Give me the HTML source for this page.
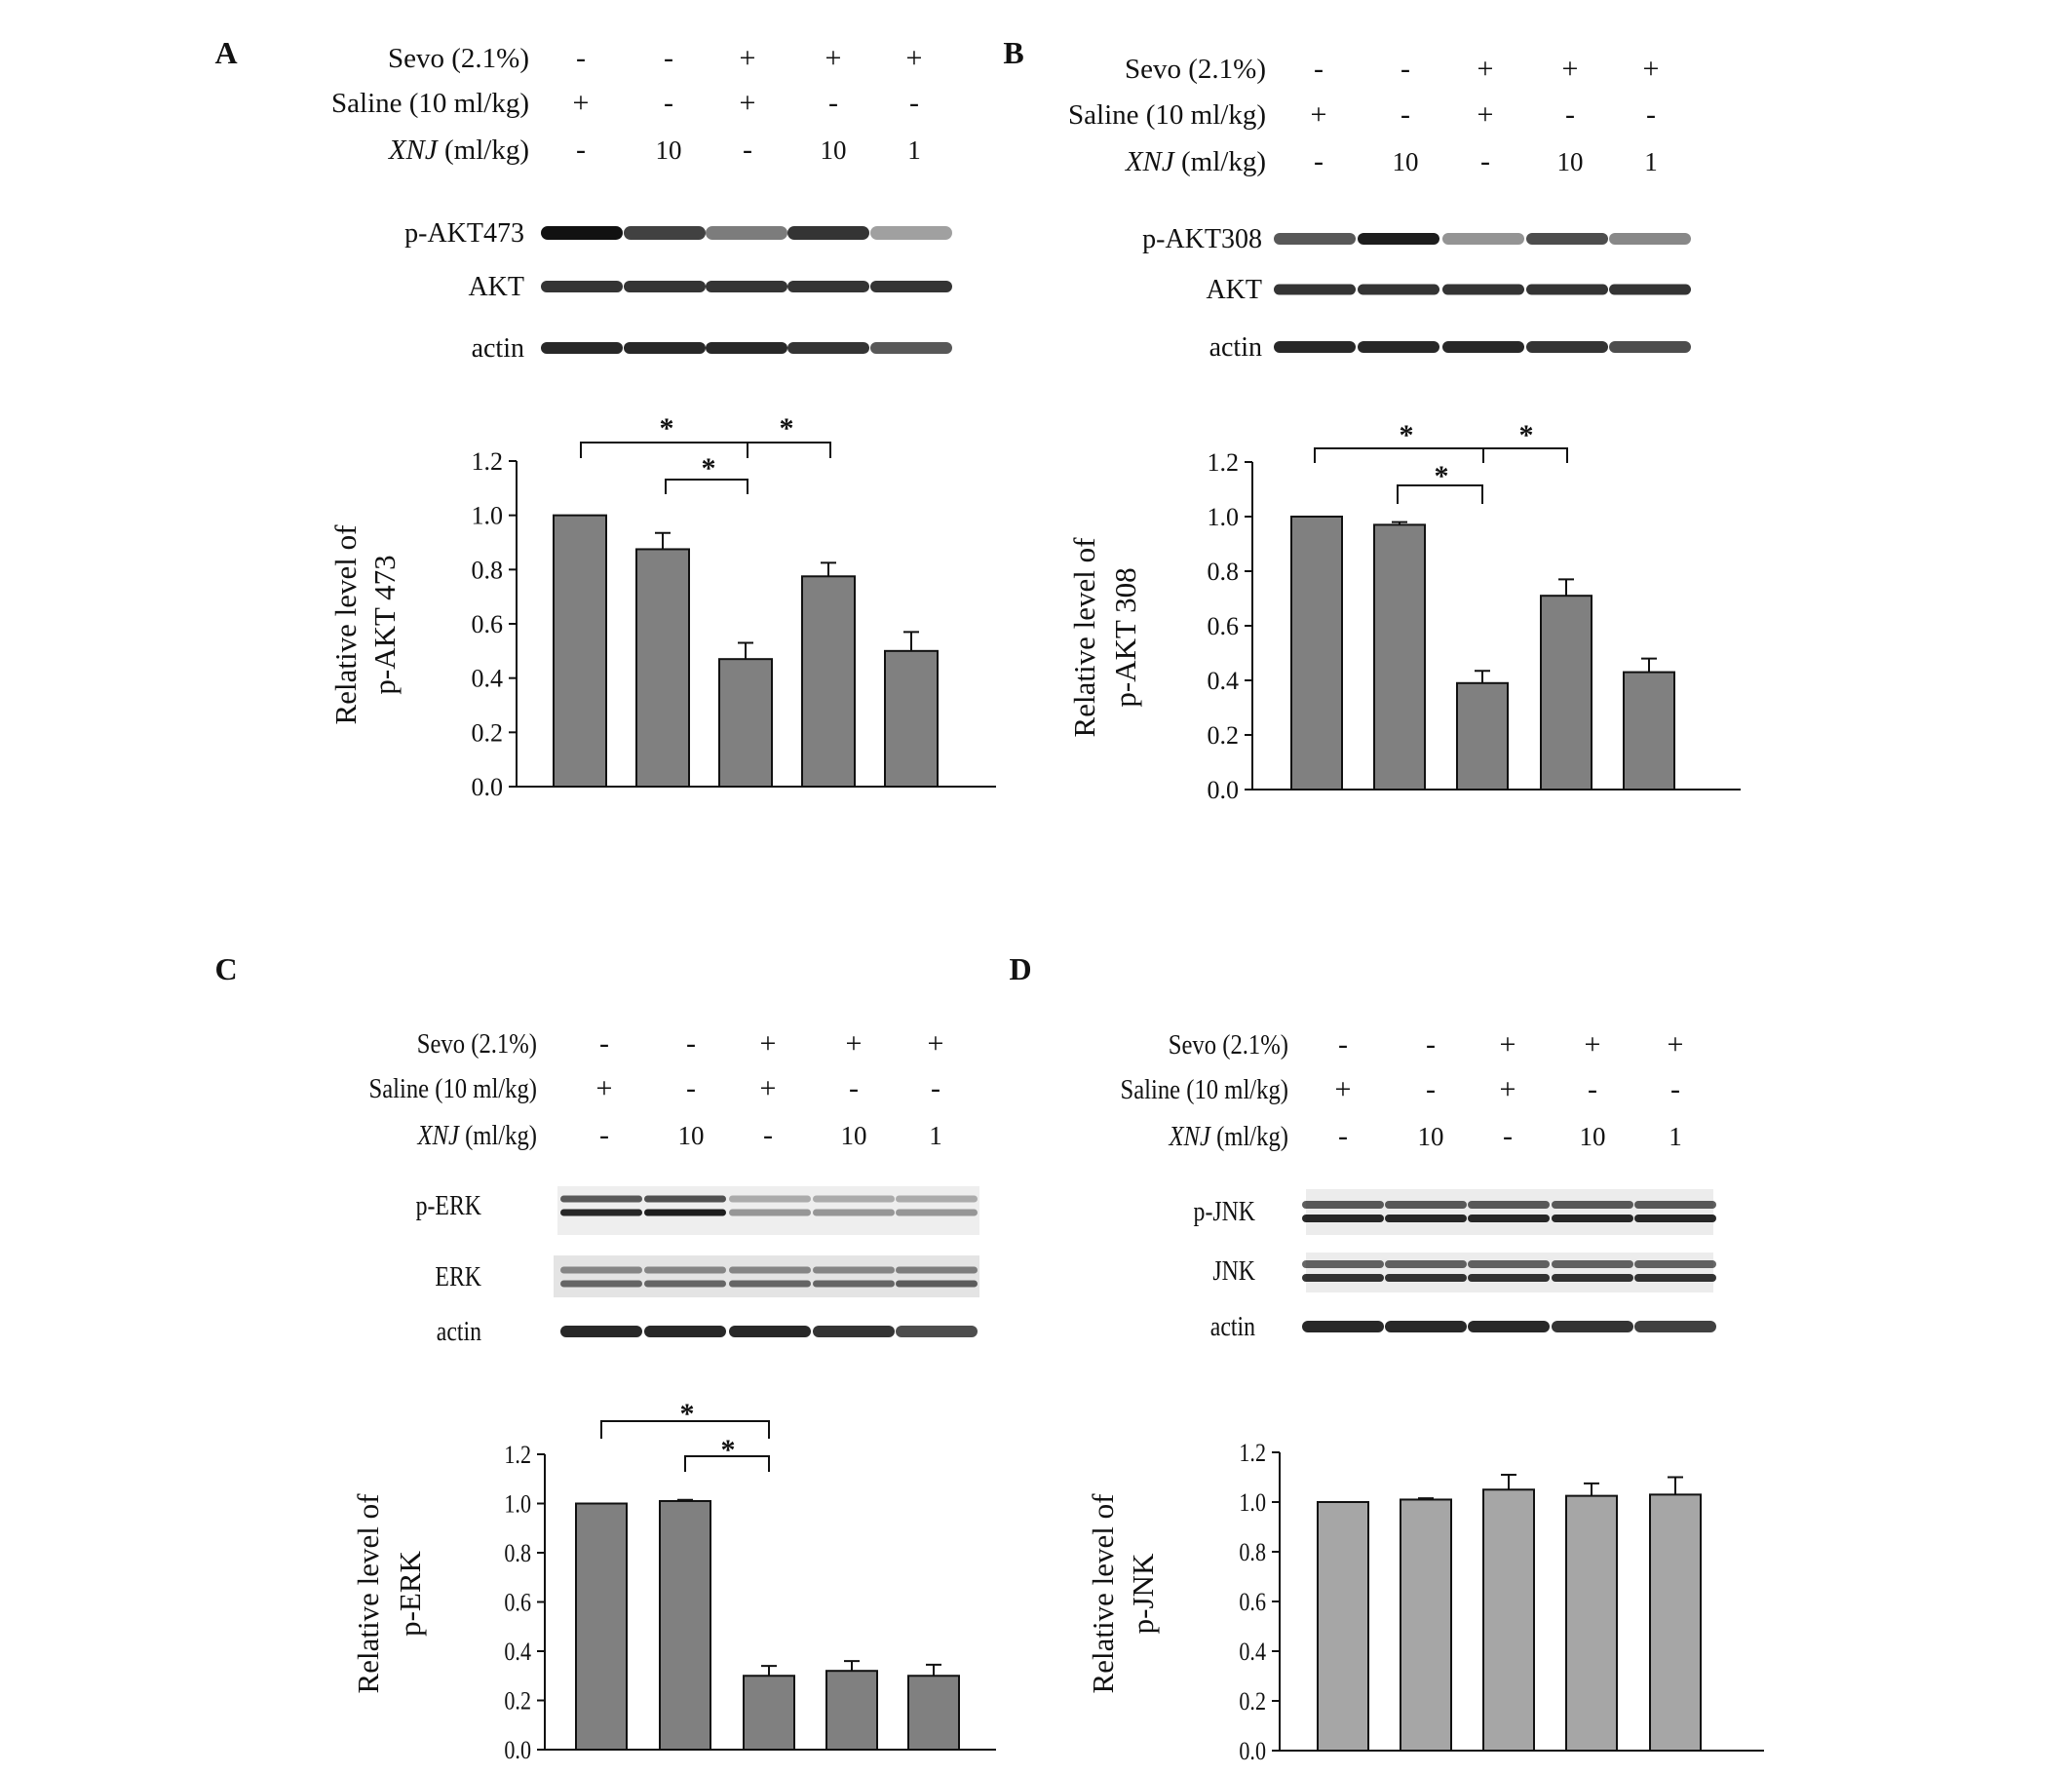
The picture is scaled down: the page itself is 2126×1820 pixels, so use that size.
<!DOCTYPE html>
<html><head><meta charset="utf-8"><style>
body{margin:0;background:#fff}
svg{display:block}
text{font-family:"Liberation Serif",serif;fill:#111}
</style></head><body>
<svg id="fig" width="2126" height="1820" viewBox="0 0 2126 1820" xmlns="http://www.w3.org/2000/svg"></svg>
<script>
const categories = ["Saline", "XNJ 10", "Sevo+Saline", "Sevo+XNJ 10", "Sevo+XNJ 1"];
const sevoRow = ["-", "-", "+", "+", "+"];
const salineRow = ["+", "-", "+", "-", "-"];
const xnjRow = ["-", "10", "-", "10", "1"];
const tickLabels = ["0.0", "0.2", "0.4", "0.6", "0.8", "1.0", "1.2"];
const valuesA = [1.0, 0.875, 0.47, 0.775, 0.50];
const errorsA = [0, 0.06, 0.06, 0.05, 0.07];
const valuesB = [1.0, 0.97, 0.39, 0.71, 0.43];
const errorsB = [0, 0.01, 0.045, 0.06, 0.05];
const valuesC = [1.0, 1.01, 0.30, 0.32, 0.30];
const errorsC = [0, 0.005, 0.04, 0.04, 0.045];
const valuesD = [1.0, 1.01, 1.05, 1.025, 1.03];
const errorsD = [0, 0.005, 0.06, 0.05, 0.07];
const bandA1 = [1.0, 0.8, 0.55, 0.85, 0.4];
const bandB1 = [0.7, 0.95, 0.45, 0.75, 0.5];
const bandC1 = [0.9, 0.95, 0.4, 0.4, 0.4];

const NS="http://www.w3.org/2000/svg";
const svg=document.getElementById('fig');
function el(tag,attrs,parent){const e=document.createElementNS(NS,tag);for(const k in attrs)e.setAttribute(k,attrs[k]);(parent||svg).appendChild(e);return e;}
function txt(x,y,s,size,anchor,extra,parent){const t=el('text',Object.assign({x:x,y:y,'font-size':size,'text-anchor':anchor||'start'},extra||{}),parent);t.textContent=s;return t;}

const panels=[
 {id:'a',letter:'A',dy:0,lx:232,ly:65,hdrRight:543,rows:[59,105,153],cols:[596,686,767,855,938],cond:false,
  blots:[{label:'p-AKT473',y:239,int:bandA1,h:14},{label:'AKT',y:294,int:[0.85,0.85,0.85,0.85,0.85],h:12},{label:'actin',y:357,int:[0.9,0.9,0.9,0.85,0.7],h:12}],
  blotLabelRight:538,lanes:[597,682,766,850,935],
  ax:{x0:530,x1:1022,y0:807,y12:473},bars:[595,680,765,850,935],bw:54,vals:valuesA,errs:errorsA,fill:'#808080',
  title:['Relative level of','p-AKT 473'],tx:[365,405],ty:641,
  sig:[{x1:596,x2:852,mid:767,y:454,d:16,sx:[684,807],sy:437},{x1:683,x2:767,y:492,d:15,sx:[727],sy:478}]},
 {id:'b',letter:'B',dy:0,lx:1040,ly:65,hdrRight:1299,rows:[70,117,165],cols:[1353,1442,1524,1611,1694],cond:false,
  blots:[{label:'p-AKT308',y:245,int:bandB1,h:12},{label:'AKT',y:297,int:[0.85,0.85,0.85,0.85,0.85],h:11},{label:'actin',y:356,int:[0.9,0.9,0.9,0.85,0.75],h:12}],
  blotLabelRight:1295,lanes:[1349,1435,1522,1608,1693],
  ax:{x0:1285,x1:1786,y0:810,y12:474},bars:[1351,1436,1521,1607,1692],bw:52,vals:valuesB,errs:errorsB,fill:'#808080',
  title:['Relative level of','p-AKT 308'],tx:[1123,1165],ty:654,
  sig:[{x1:1349,x2:1608,mid:1522,y:460,d:15,sx:[1443,1566],sy:444},{x1:1434,x2:1521,y:498,d:19,sx:[1479],sy:486}]},
 {id:'c',letter:'C',dy:-7,lx:232,ly:1012,hdrRight:551,rows:[1077,1123,1171],cols:[620,709,788,876,960],cond:true,
  blots:[{label:'p-ERK',y:1244,int:bandC1,h:7,dbl:true,box:[572,1224,433,50,'#eeeeee']},{label:'ERK',y:1317,int:[0.6,0.6,0.6,0.6,0.65],h:7,dbl:true,box:[568,1295,437,43,'#e4e4e4']},{label:'actin',y:1373,int:[0.9,0.9,0.9,0.85,0.75],h:12}],
  blotLabelRight:494,lanes:[617,703,790,876,961],
  ax:{x0:559,x1:1022,y0:1802,y12:1499},bars:[617,703,789,874,958],bw:52,vals:valuesC,errs:errorsC,fill:'#808080',
  title:['Relative level of','p-ERK'],tx:[388,431],ty:1642,
  sig:[{x1:617,x2:789,y:1465,d:18,sx:[705],sy:1455},{x1:703,x2:789,y:1501,d:16,sx:[747],sy:1492}]},
 {id:'d',letter:'D',dy:-7,lx:1047,ly:1012,hdrRight:1322,rows:[1078,1124,1172],cols:[1378,1468,1547,1634,1719],cond:true,
  blots:[{label:'p-JNK',y:1250,int:[0.9,0.9,0.9,0.9,0.9],h:8,dbl:true,box:[1340,1227,418,47,'#ececec']},{label:'JNK',y:1311,int:[0.85,0.85,0.85,0.85,0.85],h:8,dbl:true,box:[1340,1292,418,41,'#ececec']},{label:'actin',y:1368,int:[0.9,0.9,0.9,0.85,0.8],h:12}],
  blotLabelRight:1288,lanes:[1378,1463,1548,1634,1719],
  ax:{x0:1313,x1:1810,y0:1803,y12:1497},bars:[1378,1463,1548,1633,1719],bw:52,vals:valuesD,errs:errorsD,fill:'#a6a6a6',
  title:['Relative level of','p-JNK'],tx:[1142,1183],ty:1642,sig:[]}
];

panels.forEach(p=>{
  const g=el('g',{transform:'translate(0 '+p.dy+')'});
  
  
  const L=txt(p.lx,p.ly,p.letter,32,'middle',{'font-weight':'bold'},g);
  
  
  const hdrNames=[['Sevo (2.1%)',sevoRow],['Saline (10 ml/kg)',salineRow],['(ml/kg)',xnjRow]];
  hdrNames.forEach((h,i)=>{
    const y=p.rows[i]+10;
    let t;
    if(i===2){
      t=txt(p.hdrRight,y,'',29,'end',{},g);
      const a=document.createElementNS(NS,'tspan');a.setAttribute('font-style','italic');a.textContent='XNJ';t.appendChild(a);
      const b=document.createElementNS(NS,'tspan');b.textContent=' (ml/kg)';t.appendChild(b);
    } else t=txt(p.hdrRight,y,h[0],29,'end',{},g);
    if(p.cond) t.setAttribute('transform','translate('+p.hdrRight+' 0) scale(0.85 1) translate('+(-p.hdrRight)+' 0)');
    
    
    h[1].forEach((s,j)=>{
      const c=txt(p.cols[j],y,s,s.length>1||/\d/.test(s)?27:30,'middle',{},g);
      
      
    });
  });
  p.blots.forEach(b=>{
    const lab=txt(p.blotLabelRight,b.y+9,b.label,28,'end',{},g);
    if(p.cond) lab.setAttribute('transform','translate('+p.blotLabelRight+' 0) scale(0.85 1) translate('+(-p.blotLabelRight)+' 0)');
    
    
    if(b.box){const r=el('rect',{x:b.box[0],y:b.box[1],width:b.box[2],height:b.box[3],fill:b.box[4]},g);
      }
    b.int.forEach((v,j)=>{
      const cx=p.lanes[j];
      const ys=b.dbl?[b.y-7,b.y+7]:[b.y];
      ys.forEach((yy,k)=>{
        const op=b.dbl&&k===0?v*0.75:v;
        const band=el('rect',{x:cx-42,y:yy-b.h/2,width:84,height:b.h,rx:b.h/2,fill:'#111','fill-opacity':op},g);
        
        
      });
    });
  });
  const a=p.ax;
  const yS=v=>a.y0-(a.y0-a.y12)*v/1.2;
  const axes=el('path',{d:`M${a.x0} ${a.y12}V${a.y0}H${a.x1}`,stroke:'#111','stroke-width':2,fill:'none'},g);
  
  
  tickLabels.forEach(tl=>{
    const v=parseFloat(tl),y=yS(v);
    const tk=el('line',{x1:a.x0-8,x2:a.x0,y1:y,y2:y,stroke:'#111','stroke-width':2},g);
    
    
    const t=txt(a.x0-14,y+9,tl,26,'end',{},g);
    if(p.cond) t.setAttribute('transform','translate('+(a.x0-14)+' 0) scale(0.85 1) translate('+(-(a.x0-14))+' 0)');
    
    
  });
  p.vals.forEach((v,i)=>{
    const cx=p.bars[i],top=yS(v);
    const bar=el('rect',{x:cx-p.bw/2,y:top,width:p.bw,height:a.y0-top,fill:p.fill,stroke:'#111','stroke-width':2},g);
    
    
    if(p.errs[i]>0){
      const et=yS(v+p.errs[i]);
      const eb=el('path',{d:`M${cx} ${top}V${et}M${cx-8} ${et}H${cx+8}`,stroke:'#111','stroke-width':2,fill:'none'},g);
      
      
    }
  });
  p.title.forEach((s,k)=>{
    const t=txt(0,0,s,31,'middle',{transform:`translate(${p.tx[k]} ${p.ty}) rotate(-90)`},g);
    
    
  });
  p.sig.forEach(s=>{
    let d=`M${s.x1} ${s.y+s.d}V${s.y}H${s.x2}V${s.y+s.d}`;
    if(s.mid) d+=`M${s.mid} ${s.y}V${s.y+s.d}`;
    const br=el('path',{d:d,stroke:'#111','stroke-width':2,fill:'none'},g);
    
    
    s.sx.forEach(x=>{
      const st=txt(x,s.sy+12,'*',30,'middle',{'font-weight':'bold'},g);
      
      
    });
  });
});
</script>
</body></html>
